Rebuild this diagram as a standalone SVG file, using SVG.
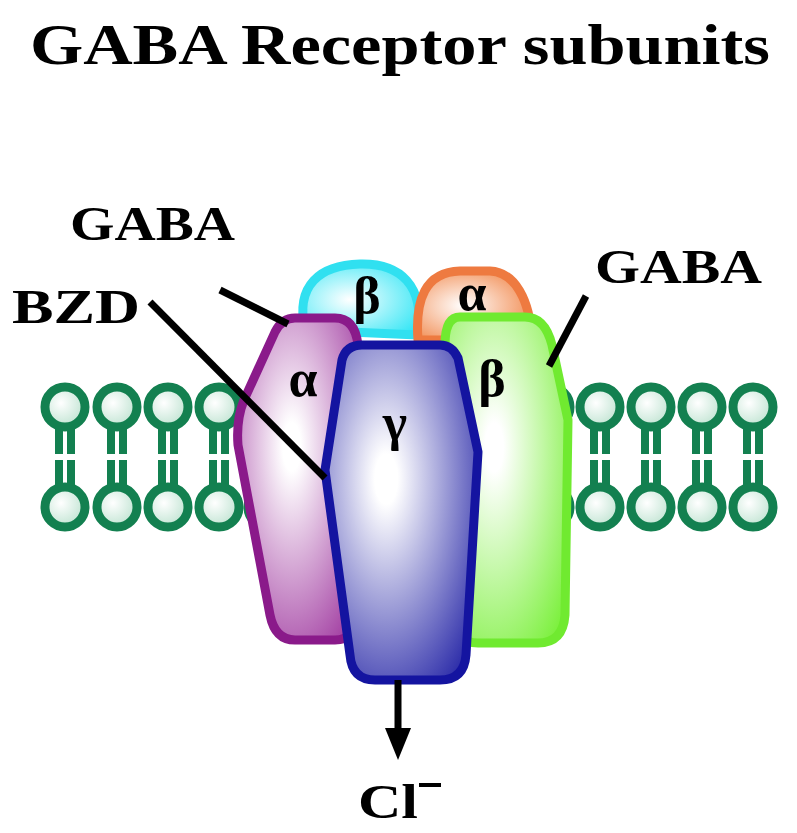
<svg xmlns="http://www.w3.org/2000/svg" width="797" height="833" viewBox="0 0 797 833">
<defs>
<radialGradient id="gc" cx="0.4" cy="0.5" r="0.7"><stop offset="0" stop-color="#fff"/><stop offset="1" stop-color="#33e6f5"/></radialGradient>
<radialGradient id="go" cx="0.4" cy="0.5" r="0.7"><stop offset="0" stop-color="#fff"/><stop offset="1" stop-color="#f08040"/></radialGradient>
<radialGradient id="gp" cx="0.45" cy="0.4" r="0.75"><stop offset="0.1" stop-color="#fff"/><stop offset="1" stop-color="#a03aa0"/></radialGradient>
<radialGradient id="gb" cx="0.4" cy="0.4" r="0.75"><stop offset="0.1" stop-color="#fff"/><stop offset="1" stop-color="#2a2aa8"/></radialGradient>
<radialGradient id="gg" cx="0.4" cy="0.4" r="0.75"><stop offset="0.1" stop-color="#fff"/><stop offset="1" stop-color="#7ef040"/></radialGradient>
<radialGradient id="gh" cx="0.4" cy="0.4" r="0.7"><stop offset="0" stop-color="#fff"/><stop offset="1" stop-color="#b8e0cc"/></radialGradient>
<g id="lip">
<path d="M-6,0V100M6,0V100" stroke="#138050" stroke-width="8"/>
<rect x="-12" y="47" width="24" height="6" fill="#fff"/>
<path d="M0,0V100" stroke="#fff" stroke-width="3"/>
<circle cx="0" cy="0" r="20" fill="url(#gh)" stroke="#138050" stroke-width="9"/>
<circle cx="0" cy="100" r="20" fill="url(#gh)" stroke="#138050" stroke-width="9"/>
</g>
</defs>
<style>
.t{font-family:"Liberation Serif",serif;font-weight:bold;fill:#000}
.ln{stroke:#000;stroke-width:7;fill:none}
.sub{stroke-width:9;stroke-linejoin:round}
</style>
<text class="t" x="30" y="64" font-size="58" textLength="740" lengthAdjust="spacingAndGlyphs">GABA Receptor subunits</text>
<g id="membrane">
<use href="#lip" x="65" y="407"/><use href="#lip" x="117" y="407"/><use href="#lip" x="168" y="407"/><use href="#lip" x="219" y="407"/><use href="#lip" x="268" y="407"/>
<use href="#lip" x="550" y="407"/><use href="#lip" x="600" y="407"/><use href="#lip" x="651" y="407"/><use href="#lip" x="702" y="407"/><use href="#lip" x="753" y="407"/>
</g>
<g id="beta-top"><path class="sub" d="M305,330 C295,285 320,265 360,264 C400,263 425,285 418,335 Z" fill="url(#gc)" stroke="#30e0f0"/><text class="t" x="367" y="313" font-size="52" text-anchor="middle">β</text></g>
<g id="alpha-top"><path class="sub" d="M418,340 C415,300 425,272 460,271 L490,271 C515,272 530,300 532,340 Z" fill="url(#go)" stroke="#ee7a40"/><text class="t" x="472" y="310" font-size="52" text-anchor="middle">α</text></g>
<g id="alpha"><path class="sub" d="M295,318 L335,318 Q355,318 358,345 L357,615 Q355,640 335,640 L295,640 Q275,640 270,615 L238,445 Q236,420 244,400 L275,332 Q282,318 295,318 Z" fill="url(#gp)" stroke="#8a1a8a"/><text class="t" x="303" y="396" font-size="52" text-anchor="middle">α</text></g>
<g id="beta"><path class="sub" d="M460,317 L525,317 Q545,317 552,345 L568,420 L565,615 Q563,643 538,643 L478,643 Q455,643 453,615 L445,345 Q445,317 460,317 Z" fill="url(#gg)" stroke="#70ea30"/><text class="t" x="492" y="396" font-size="52" text-anchor="middle">β</text></g>
<g id="gamma"><path class="sub" d="M362,345 L440,345 Q452,345 458,358 L478,452 L466,655 Q464,680 440,680 L375,680 Q352,680 350,655 L325,470 L342,360 Q346,345 362,345 Z" fill="url(#gb)" stroke="#1414a0"/><text class="t" x="395" y="440" font-size="52" text-anchor="middle">γ</text></g>
<g id="connectors">
<path class="ln" d="M220,290L288,324"/>
<path class="ln" d="M150,302L325,478"/>
<path class="ln" d="M586,296L549,366"/>
<path class="ln" d="M398,680V730"/>
<path d="M385,728 L411,728 L398,760 Z" fill="#000"/>
</g>
<text class="t" x="70" y="240" font-size="48" textLength="165" lengthAdjust="spacingAndGlyphs">GABA</text>
<text class="t" x="12" y="323" font-size="48" textLength="128" lengthAdjust="spacingAndGlyphs">BZD</text>
<text class="t" x="595" y="283" font-size="48" textLength="167" lengthAdjust="spacingAndGlyphs">GABA</text>
<text class="t" x="358" y="818" font-size="48" textLength="60" lengthAdjust="spacingAndGlyphs">Cl</text>
<path d="M419,785H441" stroke="#000" stroke-width="4"/>
</svg>
